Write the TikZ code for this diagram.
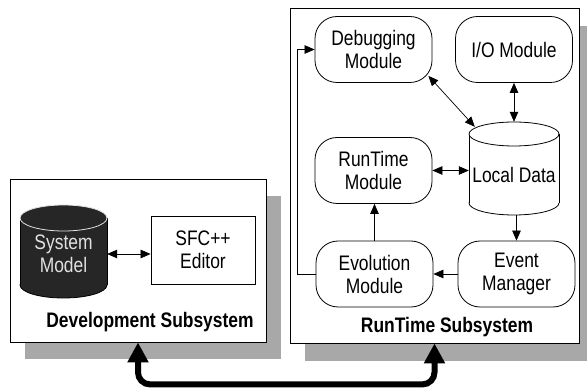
\documentclass[tikz,border=0pt]{standalone}
\usepackage{fontspec}
\setmainfont{Liberation Sans}[FakeStretch=0.83]
\usetikzlibrary{arrows.meta,calc}
\definecolor{shadowgray}{RGB}{168,168,168}
\definecolor{darkfill}{RGB}{38,38,38}
\definecolor{lighttext}{RGB}{225,225,225}
\begin{document}
\begin{tikzpicture}[x=1pt,y=-1pt,
  every node/.style={font=\fontsize{21}{23}\selectfont, align=center, inner sep=0pt},
  shadowbox/.style={fill=shadowgray, draw=none},
  subsys/.style={draw=black, fill=white, line width=0.8pt},
  titletext/.style={font=\fontsize{21}{23}\selectfont\bfseries},
  module/.style={draw=black, fill=white, rounded corners=22pt, line width=0.8pt,
                 minimum width=117pt, minimum height=66pt},
  plainbox/.style={draw=black, fill=white, line width=0.8pt},
  tip/.tip={Triangle[length=10pt,width=8.5pt]},
  link/.style={line width=0.7pt, -tip},
  dlink/.style={line width=0.7pt, tip-tip},
  bigtip/.tip={Triangle[length=20pt,width=20pt]},
  biglink/.style={line width=6pt, rounded corners=12pt, bigtip-bigtip},
]
\useasboundingbox (0,0) rectangle (587,390);

% drop shadows of the two subsystem frames
\node[shadowbox, minimum width=256pt, minimum height=163pt] (devshadow) at (153,277.5) {};
\node[shadowbox, minimum width=289pt, minimum height=335pt] (rtsshadow) at (449.5,193.5) {};

% subsystem frames
\node[subsys, minimum width=256pt, minimum height=163pt] (dev) at (138,260.5) {};
\node[subsys, minimum width=289pt, minimum height=335pt] (rts) at (434.5,175.5) {};

% ---- Development subsystem ----
% dark database cylinder
\fill[darkfill, draw=black, line width=0.8pt] (63.5,285) ellipse[x radius=43.5, y radius=13];
\fill[darkfill] (20,218) rectangle (107,285);
\draw[line width=0.8pt] (20,218) -- (20,285) (107,218) -- (107,285);
\filldraw[fill=darkfill, draw=lighttext, line width=0.8pt] (63.5,218) ellipse[x radius=43.5, y radius=13];
\node[text=lighttext, minimum width=87pt, minimum height=93pt] (sm) at (63.5,254) {System\\Model};

\node[plainbox, minimum width=104pt, minimum height=68pt] (sfc) at (203,250) {SFC++\\Editor};
\node[titletext] (devlabel) at (150,322) {Development Subsystem};

\draw[dlink] (sm.east) -- (sm.east -| sfc.west);

% ---- RunTime subsystem ----
\node[module] (dbg) at (373.5,49.5) {Debugging\\Module};
\node[module] (io)  at (514,49.5) {I/O Module};
\node[module] (rt)  at (373.5,170.5) {RunTime\\Module};
\node[module] (evo) at (374.5,274) {Evolution\\Module};
\node[module] (evm) at (516.5,274) {Event\\Manager};

% local data cylinder
\filldraw[fill=white, line width=0.8pt] (514,203) ellipse[x radius=45, y radius=12];
\fill[white] (469,134) rectangle (559,203);
\draw[line width=0.8pt] (469,134) -- (469,203) (559,134) -- (559,203);
\filldraw[fill=white, line width=0.8pt] (514,134) ellipse[x radius=45, y radius=12];
\node[minimum width=90pt, minimum height=93pt] (ld) at (514,168.5) {};
\node (ldtext) at (514,174.5) {Local Data};

\node[titletext] (rtslabel) at (447,327) {RunTime Subsystem};

% connectors inside the runtime subsystem
\draw[dlink] ($(dbg.south east)+(-4,-7)$) -- ($(ld.north west)+(6,5)$);
\draw[dlink] (io.south) -- (io.south |- ld.north);
\draw[dlink] (rt.east) -- (rt.east -| ld.west);
\draw[link] (ld.south -| evm.north) -- (evm.north);
\draw[link] (evm.west) -- (evo.east);
\draw[link] (evo.north) -- (evo.north |- rt.south);
\draw[link] (evo.west) -- ++(-18,0) |- (dbg.west);

% link between the two subsystems
\draw[biglink] (dev.south) -- ++(0,42) -| (rts.south);
\end{tikzpicture}
\end{document}
